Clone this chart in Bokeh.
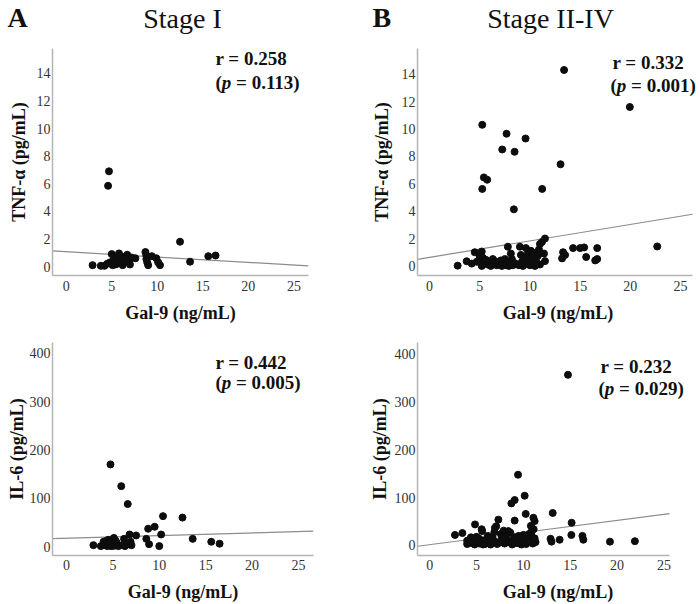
from bokeh.plotting import figure
from bokeh.layouts import column, row
from bokeh.models import Label, FixedTicker, Range1d, ColumnDataSource
from bokeh.core.properties import value
from bokeh.embed import file_html
from bokeh.resources import INLINE

SERIF = "Liberation Serif"

# ---------------- data ----------------
# Stage I : TNF-alpha vs Gal-9
gal9_s1_tnf = [2.9, 3.8, 4.2, 4.5, 4.6, 4.7, 4.8, 5.0, 5.1, 5.2, 5.3, 5.4, 5.5, 5.6, 5.8,
               6.0, 6.1, 6.2, 6.4, 6.5, 6.6, 6.7, 6.9, 7.0, 7.2, 7.6, 8.7, 8.8, 8.8, 8.9,
               9.0, 9.4, 9.9, 10.1, 10.3, 12.5, 13.6, 15.6, 16.4]
tnf_s1 = [0.1, 0.05, 0.05, 0.2, 5.85, 6.9, 0.3, 0.9, 0.1, 0.45, 0.35, 0.15, 0.6, 0.2, 0.95,
          0.45, 0.3, 0.1, 0.7, 0.35, 0.55, 0.85, 0.4, 0.15, 0.65, 0.6, 1.05, 0.55, 0.8, 0.3,
          0.1, 0.75, 0.6, 0.3, 0.1, 1.8, 0.35, 0.75, 0.8]
fit_tnf_s1 = (1.07, -0.0384)   # intercept, slope of the drawn fit line

# Stage II-IV : TNF-alpha vs Gal-9
gal9_s2_tnf = [13.4, 19.95, 5.25, 7.67, 9.56, 7.24, 8.47, 13.05, 5.41, 5.74, 5.25, 11.22, 8.4, 22.68,
               2.8, 3.7, 4.2, 4.5,
               5.2, 5.3, 5.4, 5.2, 5.6, 5.8, 6.0, 6.1, 6.4, 6.5, 6.7, 6.8, 7.0, 7.1, 7.2, 7.4,
               7.5, 7.6, 7.7, 7.8, 7.9, 8.0, 8.1, 8.2, 8.3,
               9.0, 9.1, 9.2, 9.3, 9.4, 9.6, 9.6, 9.8, 9.9, 10.0, 10.1, 10.2, 10.3, 10.4, 10.5,
               10.6, 10.8, 10.9, 11.0, 11.0, 11.2, 11.4, 11.5, 11.5,
               13.2, 13.3, 13.5, 14.3, 15.0, 15.4, 15.6, 16.5, 16.7, 16.7,
               4.7, 5.0, 6.3, 8.5, 8.9, 9.7, 10.7]
tnf_s2 = [14.3, 11.6, 10.3, 9.65, 9.3, 8.5, 8.33, 7.42, 6.46, 6.29, 5.62, 5.62, 4.13, 1.42,
          0.02, 0.34, 0.17, 1.0,
          1.05, 0.6, 0.25, 0.0, 0.45, 0.1, 0.3, 0.0, 0.15, 0.35, 0.05, 0.25, 0.1, 0.4, 0.0, 0.2,
          0.5, 0.05, 0.3, 1.4, 0.0, 0.15, 0.9, 0.5, 0.05,
          1.4, 0.8, 0.3, 0.0, 0.6, 1.3, 0.15, 0.9, 0.45, 0.05, 1.1, 0.7, 0.25, 0.95, 0.0,
          0.4, 0.75, 1.2, 0.1, 1.6, 1.75, 0.9, 2.0, 0.35,
          0.55, 1.0, 0.8, 1.3, 1.3, 1.35, 0.65, 0.4, 1.3, 0.5,
          0.3, 0.7, 0.5, 0.2, 0.05, 0.5, 0.15]
fit_tnf_s2 = (0.626, 0.120)

# Stage I : IL-6 vs Gal-9
gal9_s1_il6 = [2.9, 3.7, 4.0, 4.2, 4.3, 4.4, 4.5, 4.6, 4.7, 4.74, 4.8, 4.9, 5.0, 5.1, 5.2,
               5.3, 5.4, 5.6, 5.9, 6.0, 6.2, 6.3, 6.5, 6.6, 6.8, 6.9, 7.0, 7.5, 8.6, 8.8,
               8.9, 9.5, 10.0, 10.2, 10.4, 12.5, 13.6, 15.6, 16.5]
il6_s1 = [3, 1, 10, 3, 12, 1, 14, 6, 2, 170, 10, 1, 4, 18, 2,
          12, 8, 1, 125, 3, 16, 1, 4, 88, 25, 10, 3, 23, 16, 37,
          5, 41, 1, 25, 63, 60, 16, 10, 6]
fit_il6_s1 = (17.2, 0.557)

# Stage II-IV : IL-6 vs Gal-9
gal9_s2_il6 = [14.76, 9.43, 10.14, 9.07, 8.72, 10.25, 13.13, 11.07, 11.2, 7.33, 9.07, 15.15, 4.84,
               6.97, 5.55, 2.7, 3.49, 15.12, 16.3, 16.4, 19.24, 21.9, 13.87, 12.9, 13.0, 10.85,
               10.9, 10.95, 4.0, 4.4,
               4.0, 4.2, 4.5, 4.6, 4.8, 5.0, 5.3, 5.3, 5.6, 5.8, 5.9, 6.2, 6.3, 6.5, 6.7, 6.9,
               7.0, 7.2, 7.6, 7.8, 7.9, 8.0, 8.2, 8.5, 8.6, 8.8, 9.0, 9.2, 9.4, 9.5, 9.7, 9.8,
               10.1, 10.4, 10.6, 10.8, 11.1, 11.3, 11.0, 7.1, 6.0, 8.4, 9.3,
               5.1, 6.4, 7.5, 8.1, 9.6, 10.3, 11.2, 4.3, 5.7, 7.7, 8.9, 10.0]
il6_s2 = [357, 148, 104, 95, 88, 66, 68, 58, 51, 54, 52, 47.5, 44,
          37, 34, 22, 26, 22, 20, 12, 8, 9, 12, 14, 8, 28,
          18, 12, 10, 17,
          3, 8, 5, 12, 2, 18, 14, 4, 30, 10, 3, 20, 6, 2, 17, 28,
          8, 3, 24, 10, 31, 4, 14, 7, 27, 2, 17, 5, 14, 20, 7, 2,
          10, 17, 24, 41, 34, 7, 4, 40, 12, 30, 10,
          8, 10, 6, 20, 4, 3, 15, 6, 2, 16, 9, 22]
fit_il6_s2 = (1.7, 2.54)

x_ticks = [0, 5, 10, 15, 20, 25]
tnf_ticks = [0, 2, 4, 6, 8, 10, 12, 14]
il6_ticks = [0, 100, 200, 300, 400]

x_label = "Gal-9 (ng/mL)"
tnf_label = "TNF-\u03b1 (pg/mL)"
il6_label = "IL-6 (pg/mL)"

panel_letters = ["A", "B"]
panel_titles = ["Stage I", "Stage II-IV"]


def panel(xs, ys, fit, xr, xbounds, yr, yticks, ylabel, w, h, bl, br, bt, bb,
          ylab_standoff, xtick_standoff, xlab_standoff,
          r_text, p_text, r_pos, p_pos):
    p = figure(width=w, height=h, output_backend="svg", toolbar_location=None,
               x_range=Range1d(*xr), y_range=Range1d(*yr),
               min_border_left=bl, min_border_right=br, min_border_top=bt, min_border_bottom=bb,
               background_fill_color="white", border_fill_color="white")
    p.outline_line_color = None
    p.xgrid.visible = False
    p.ygrid.visible = False

    for ax in (p.xaxis[0], p.yaxis[0]):
        ax.axis_line_color = "#b4b4b4"
        ax.axis_line_width = 1.5
        ax.major_tick_line_color = None
        ax.minor_tick_line_color = None
        ax.major_tick_out = 0
        ax.major_tick_in = 0
        ax.major_label_text_font = SERIF
        ax.major_label_text_font_size = "14px"
        ax.major_label_text_color = "#333333"
        ax.axis_label_text_font = SERIF
        ax.axis_label_text_font_size = "18px"
        ax.axis_label_text_font_style = "bold"
        ax.axis_label_text_color = "#111111"

    p.xaxis.ticker = FixedTicker(ticks=x_ticks)
    p.xaxis.bounds = xbounds
    p.yaxis.ticker = FixedTicker(ticks=yticks)
    p.xaxis.axis_label = x_label
    p.yaxis.axis_label = ylabel
    p.yaxis.major_label_standoff = 2
    p.yaxis.axis_label_standoff = ylab_standoff
    p.xaxis.major_label_standoff = xtick_standoff
    p.xaxis.axis_label_standoff = xlab_standoff

    # fit line across the axis extent
    b0, b1 = fit
    lx = [xbounds[0], xbounds[1]]
    ly = [b0 + b1 * v for v in lx]
    p.line(lx, ly, line_color="#8c8c8c", line_width=1.2)

    src = ColumnDataSource(dict(x=xs, y=ys))
    p.scatter("x", "y", source=src, size=7, fill_color="#0d0d0d", line_color="#0d0d0d")

    common = dict(text_font=SERIF, text_font_size="19px", text_font_style="bold",
                  text_color="#111111", text_baseline="middle", text_align="left")
    p.add_layout(Label(x=r_pos[0], y=r_pos[1], text=r_text, **common))
    p.add_layout(Label(x=p_pos[0], y=p_pos[1], text="(", **common))
    pc = dict(common)
    pc["text_font_style"] = "bold italic"
    p.add_layout(Label(x=p_pos[0], y=p_pos[1], x_offset=6.3, text="p", **pc))
    p.add_layout(Label(x=p_pos[0], y=p_pos[1], x_offset=20.6, text="= " + p_text + ")", **common))
    return p


# header with panel letters and titles (pixel space of the header strip)
header = figure(width=700, height=40, output_backend="svg", toolbar_location=None,
                x_range=Range1d(0, 700), y_range=Range1d(40, 0),
                x_axis_type=None, y_axis_type=None,
                min_border_left=0, min_border_right=0, min_border_top=0, min_border_bottom=0)
header.outline_line_color = None
header.xgrid.visible = False
header.ygrid.visible = False
header.text(x=[7, 372], y=[17, 17], text=panel_letters, text_font=value(SERIF),
            text_font_size="28px", text_font_style="bold", text_color="#111111",
            text_baseline="middle", text_align="left")
header.text(x=[182, 550], y=[18, 18], text=panel_titles, text_font=value(SERIF),
            text_font_size="28px", text_color="#111111",
            text_baseline="middle", text_align="center")

a1 = panel(gal9_s1_tnf, tnf_s1, fit_tnf_s1, (-1.5, 26.6), (-1.5, 26.6), (-0.65, 15.8),
           tnf_ticks, tnf_label, 360, 285, 52, 52, 8, 48, 5, 5, 9,
           "r = 0.258", "0.113", (16.39, 15.08), (16.39, 13.36))

b1 = panel(gal9_s2_tnf, tnf_s2, fit_tnf_s2, (-1.2, 26.79), (-1.2, 26.2), (-0.7, 15.87),
           tnf_ticks, tnf_label, 340, 285, 57, 2, 8, 48, 7, 5, 9,
           "r = 0.332", "0.001", (18.22, 14.86), (18.02, 13.19))

a2 = panel(gal9_s1_il6, il6_s1, fit_il6_s1, (-1.51, 26.62), (-1.51, 26.62), (-18.4, 422),
           il6_ticks, il6_label, 360, 279, 52, 47, 17, 46, 0, 4, 9,
           "r = 0.442", "0.005", (16.05, 381.2), (16.05, 338.4))

b2 = panel(gal9_s2_il6, il6_s2, fit_il6_s2, (-1.3, 28.69), (-1.3, 25.6), (-21, 424.6),
           il6_ticks, il6_label, 340, 279, 57, 2, 13, 47, 2, 4, 9,
           "r = 0.232", "0.029", (18.23, 373.7), (18.02, 329.0))

layout = column(header, row(a1, b1), row(a2, b2))

open("out.html", "w").write(file_html(layout, INLINE))
